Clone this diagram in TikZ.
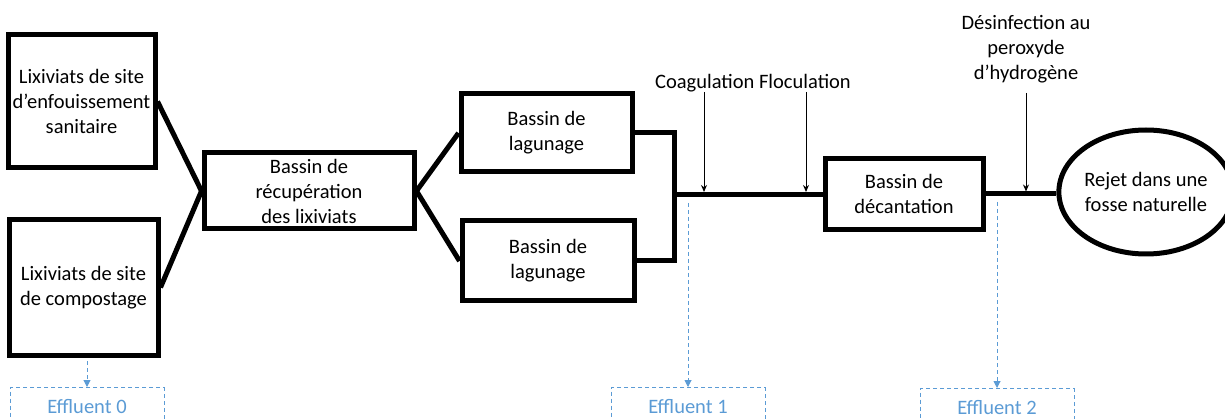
\documentclass[tikz,border=0pt]{standalone}
\usepackage{fontspec}
\setmainfont{Carlito}
\usetikzlibrary{arrows.meta,shapes.geometric}
\definecolor{effblue}{HTML}{5B9BD5}
\begin{document}
\begin{tikzpicture}[x=1pt,y=-1pt,
  font=\fontsize{20.5}{25}\selectfont,
  box/.style={draw=black,line width=5pt,inner sep=0pt,align=center},
  flow/.style={draw=black,line width=5pt,line join=miter},
  addarrow/.style={draw=black,line width=1pt,-{Stealth[length=7pt,width=6pt]}},
  effbox/.style={draw=effblue,line width=1pt,dash pattern=on 4pt off 3pt,text=effblue,
    minimum width=154pt,minimum height=38pt,inner sep=0pt,anchor=north},
  effarrow/.style={draw=effblue,line width=1pt,dash pattern=on 4pt off 3pt,
    -{Triangle[length=7pt,width=7pt]}}]
\useasboundingbox (0,0) rectangle (1225,419);
\clip (0,0) rectangle (1225,419);

\node[box,minimum width=147pt,minimum height=133pt] (b1) at (81.5,101.5)
  {Lixiviats de site\\d’enfouissement\\sanitaire};
\node[box,minimum width=149pt,minimum height=135pt] (b2) at (83.5,287.5)
  {Lixiviats de site\\de compostage};
\node[box,minimum width=210pt,minimum height=76pt] (b3) at (309,191)
  {Bassin de\\récupération\\des lixiviats};
\node[box,minimum width=171pt,minimum height=78pt] (b4) at (546.5,133)
  {Bassin de\\lagunage};
\node[box,minimum width=172pt,minimum height=80pt] (b5) at (548,261)
  {Bassin de\\lagunage};
\node[box,minimum width=158pt,minimum height=71pt] (b6) at (904,194)
  {Bassin de\\décantation};
\node[box,ellipse,minimum width=146pt,minimum height=124pt] (b7) at (1146,192)
  {Rejet dans une\\fosse naturelle};

\coordinate (j) at (674,194.5);
\draw[flow] (b1.east) -- (b3.west);
\draw[flow] (b2.east) -- (b3.west);
\draw[flow] (b3.east) -- (b4.west);
\draw[flow] (b3.east) -- (b5.west);
\draw[flow] (b4.east) -| (j);
\draw[flow] (b5.east) -| (j);
\draw[flow] (j) -- (j -| b6.west);
\draw[flow] (b6.east) -- (b6.east -| b7.west);

\node (coag) at (753,83) {Coagulation Floculation};
\node[align=center] (desinf) at (1026,49) {Désinfection au\\peroxyde\\d’hydrogène};
\coordinate (a1) at (704,92);
\coordinate (a2) at (806,92);
\coordinate (a3) at (1026,93);
\draw[addarrow,shorten >=2.5pt] (a1) -- (a1 |- j);
\draw[addarrow,shorten >=2.5pt] (a2) -- (a2 |- j);
\draw[addarrow,shorten >=2.5pt] (a3) -- (a3 |- b6.east);

\node[effbox] (e0) at (87,387) {Effluent 0};
\node[effbox] (e1) at (688,387) {Effluent 1};
\node[effbox] (e2) at (997,388) {Effluent 2};
\coordinate (s0) at (87,361);
\coordinate (s1) at (688,203);
\coordinate (s2) at (997,202);
\draw[effarrow] (s0) -- (e0.north);
\draw[effarrow] (s1) -- (e1.north);
\draw[effarrow] (s2) -- (e2.north);
\end{tikzpicture}
\end{document}
